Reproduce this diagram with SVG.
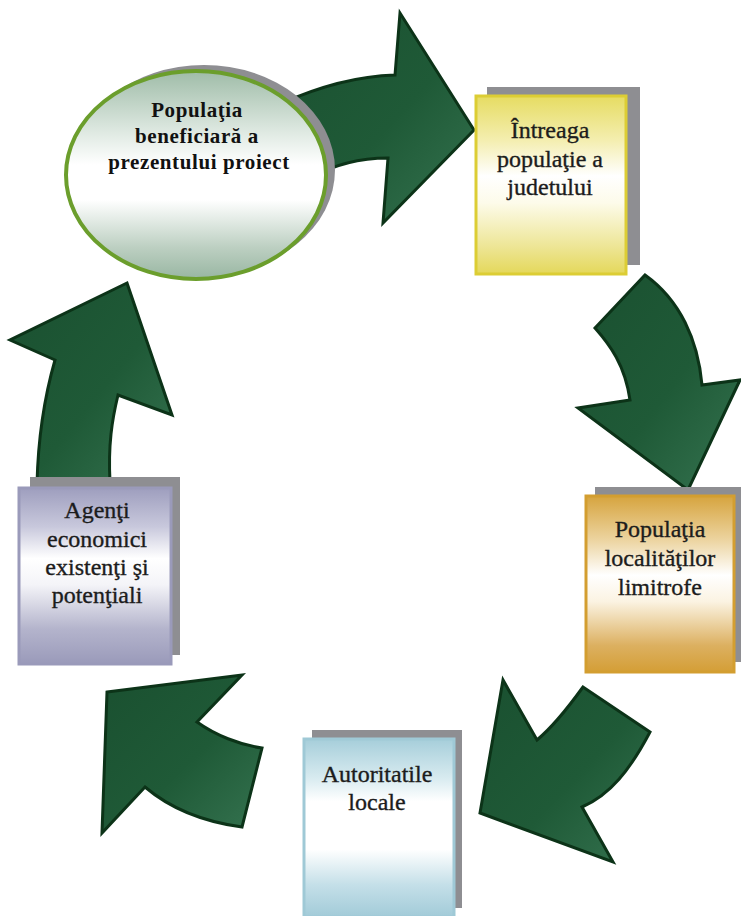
<svg xmlns="http://www.w3.org/2000/svg" width="741" height="916" viewBox="0 0 741 916">
  <defs>
    <linearGradient id="gArrow" x1="0" y1="0" x2="1" y2="1">
      <stop offset="0" stop-color="#1a5030"/>
      <stop offset="0.55" stop-color="#1f5a37"/>
      <stop offset="1" stop-color="#357350"/>
    </linearGradient>
    <linearGradient id="gEll" x1="0" y1="0" x2="0" y2="1">
      <stop offset="0" stop-color="#9fbca8"/>
      <stop offset="0.3" stop-color="#e0eae3"/>
      <stop offset="0.45" stop-color="#ffffff"/>
      <stop offset="0.62" stop-color="#ffffff"/>
      <stop offset="0.85" stop-color="#bccfc1"/>
      <stop offset="1" stop-color="#98b6a2"/>
    </linearGradient>
    <linearGradient id="gYel" x1="0" y1="0" x2="0" y2="1">
      <stop offset="0" stop-color="#e6dc62"/>
      <stop offset="0.25" stop-color="#f4eeb0"/>
      <stop offset="0.45" stop-color="#ffffff"/>
      <stop offset="0.6" stop-color="#fdfbea"/>
      <stop offset="0.85" stop-color="#ede594"/>
      <stop offset="1" stop-color="#e4d85a"/>
    </linearGradient>
    <linearGradient id="gGold" x1="0" y1="0" x2="0" y2="1">
      <stop offset="0" stop-color="#d6a43e"/>
      <stop offset="0.25" stop-color="#ecd4a0"/>
      <stop offset="0.45" stop-color="#ffffff"/>
      <stop offset="0.6" stop-color="#fbf3e2"/>
      <stop offset="0.85" stop-color="#dcb060"/>
      <stop offset="1" stop-color="#d49e36"/>
    </linearGradient>
    <linearGradient id="gBlue" x1="0" y1="0" x2="0" y2="1">
      <stop offset="0" stop-color="#a6ceda"/>
      <stop offset="0.22" stop-color="#d8ebf0"/>
      <stop offset="0.35" stop-color="#ffffff"/>
      <stop offset="0.62" stop-color="#ffffff"/>
      <stop offset="0.82" stop-color="#c4dfe8"/>
      <stop offset="1" stop-color="#a2cbd8"/>
    </linearGradient>
    <linearGradient id="gLav" x1="0" y1="0" x2="0" y2="1">
      <stop offset="0" stop-color="#9e9ebe"/>
      <stop offset="0.22" stop-color="#c8c8dc"/>
      <stop offset="0.4" stop-color="#ffffff"/>
      <stop offset="0.55" stop-color="#f4f4f8"/>
      <stop offset="0.8" stop-color="#b4b4cc"/>
      <stop offset="1" stop-color="#9a9aba"/>
    </linearGradient>
    <style>
      .arrow { fill: url(#gArrow); stroke: #0c3318; stroke-width: 3; stroke-linejoin: miter; }
      .shadow { fill: #8e8e92; }
      .lbl { font-family: "Liberation Serif", "Times New Roman", serif; font-size: 24px; fill: #1c1c1c; stroke: #1c1c1c; stroke-width: 0.35px; text-anchor: middle; }
      .lblb { font-family: "Liberation Serif", "Times New Roman", serif; font-size: 21px; font-weight: bold; letter-spacing: 0.6px; fill: #111; text-anchor: middle; }
    </style>
  </defs>
  <rect width="741" height="916" fill="#ffffff"/>

  <g id="connectors">
    <path class="arrow" d="M 280 104 C 320 86 360 76 395 75 L 400 13 L 474 130 L 383 223 L 388 158 C 360 158 335 164 310 178 Z"/>
    <path class="arrow" d="M 595 328 L 645 275 C 680 300 698 340 702 385 L 740 380 L 688 490 L 578 408 L 630 400 C 625 365 610 345 595 328 Z"/>
    <path class="arrow" d="M 480 813 L 503 680 L 537 740 C 555 725 570 705 583 687 L 650 732 C 630 770 610 795 582 807 L 613 862 Z"/>
    <path class="arrow" d="M 107 692 L 242 675 L 197 722 C 215 735 240 745 262 748 L 242 827 C 205 822 172 810 145 787 L 102 833 Z"/>
    <path class="arrow" d="M 127 283 L 172 415 L 118 395 C 112 420 108 445 110 482 L 37 484 C 38 440 45 395 55 360 L 10 340 Z"/>
  </g>

  <g id="node-populatia-beneficiara">
    <ellipse class="shadow" cx="204" cy="170" rx="131" ry="105"/>
    <ellipse cx="196" cy="175" rx="130" ry="104" fill="url(#gEll)" stroke="#6b9e2c" stroke-width="4"/>
    <text class="lblb" x="197" y="117">Populaţia</text>
    <text class="lblb" x="197" y="143">beneficiară a</text>
    <text class="lblb" x="199" y="169">prezentului proiect</text>
  </g>

  <g id="node-intreaga-populatie">
    <rect class="shadow" x="487" y="87" width="153" height="178"/>
    <rect x="476" y="96" width="150" height="178" fill="url(#gYel)" stroke="#dccd34" stroke-width="3"/>
    <text class="lbl" x="550" y="138">Întreaga</text>
    <text class="lbl" x="550" y="167">populaţie a</text>
    <text class="lbl" x="550" y="195">judetului</text>
  </g>

  <g id="node-localitati-limitrofe">
    <rect class="shadow" x="595" y="487" width="146" height="175"/>
    <rect x="586" y="496" width="148" height="176" fill="url(#gGold)" stroke="#d39e30" stroke-width="3"/>
    <text class="lbl" x="660" y="537">Populaţia</text>
    <text class="lbl" x="660" y="566">localităţilor</text>
    <text class="lbl" x="660" y="595">limitrofe</text>
  </g>

  <g id="node-autoritatile-locale">
    <rect class="shadow" x="312" y="730" width="150" height="178"/>
    <rect x="304" y="739" width="150" height="178" fill="url(#gBlue)" stroke="#9fc9d6" stroke-width="3"/>
    <text class="lbl" x="377" y="782">Autoritatile</text>
    <text class="lbl" x="377" y="810">locale</text>
  </g>

  <g id="node-agenti-economici">
    <rect class="shadow" x="30" y="477" width="150" height="178"/>
    <rect x="19" y="488" width="152" height="176" fill="url(#gLav)" stroke="#9a9aba" stroke-width="3"/>
    <text class="lbl" x="97" y="518">Agenţi</text>
    <text class="lbl" x="97" y="547">economici</text>
    <text class="lbl" x="97" y="575">existenţi şi</text>
    <text class="lbl" x="97" y="603">potenţiali</text>
  </g>
</svg>
